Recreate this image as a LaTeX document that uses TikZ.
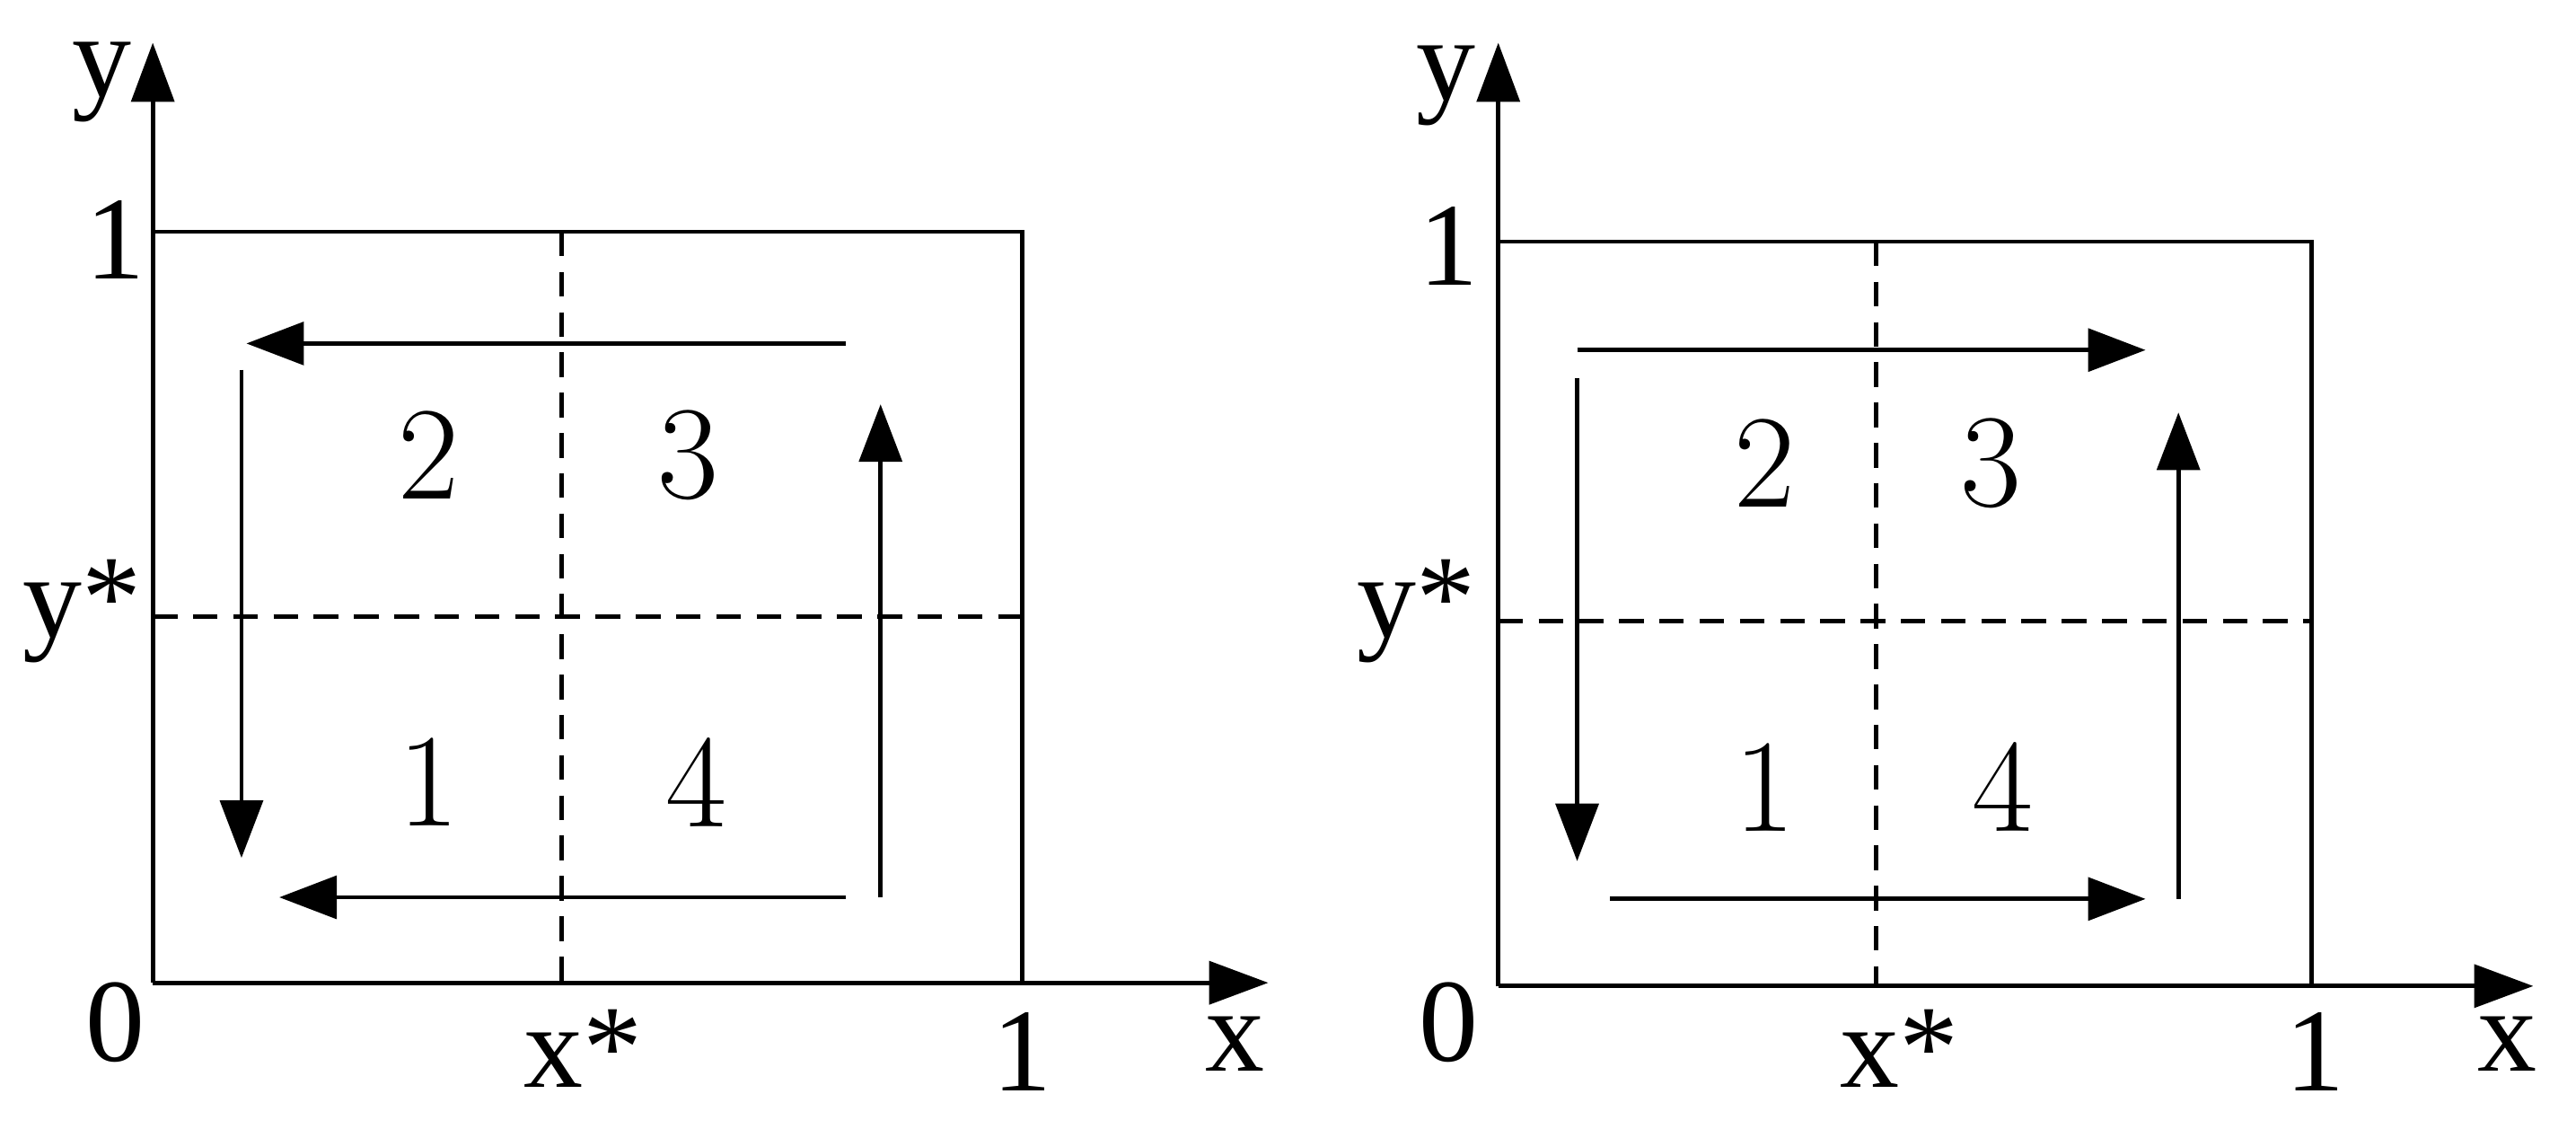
\documentclass[tikz,border=0pt]{standalone}
\usepackage{fontspec}
\newfontfamily\axfont{Liberation Serif}
\usetikzlibrary{arrows.meta}
\begin{document}
\begin{tikzpicture}[x=0.1mm,y=-0.1mm,
  ax/.style={line width=0.8pt,-{Triangle[length=3.6mm,width=2.6mm]}},
  frame/.style={line width=0.75pt},
  dsh/.style={line width=0.75pt,dash pattern=on 1.5mm off 0.95mm},
  flow/.style={line width=0.75pt,-{Triangle[length=3.5mm,width=2.6mm]}},
  axlab/.style={font=\axfont\fontsize{20.5}{21}\selectfont,inner sep=0pt},
  reg/.style={font=\fontsize{23}{23}\selectfont,inner sep=0pt}]
\useasboundingbox (0,0) rectangle (1568,692);
% ---------- left panel ----------
\coordinate (LO) at (93,598);
\coordinate (LYt) at (93,26);
\coordinate (LXt) at (772,598);
\draw[frame] (93,141) -| (622,598);
\draw[dsh] (342,141) -- (342,598);
\draw[dsh] (93,375) -- (622,375);
\draw[ax] (LO) -- (LYt);
\draw[ax] (LO) -- (LXt);
\coordinate (La1) at (515,209); \coordinate (La2) at (150,209);
\coordinate (Lb1) at (147,225); \coordinate (Lb2) at (147,522);
\coordinate (Lc1) at (515,546); \coordinate (Lc2) at (170,546);
\coordinate (Ld1) at (536,546); \coordinate (Ld2) at (536,246);
\draw[flow] (La1) -- (La2);
\draw[flow] (Lb1) -- (Lb2);
\draw[flow] (Lc1) -- (Lc2);
\draw[flow] (Ld1) -- (Ld2);
\node[reg] (L2) at (261,277) {2};
\node[reg] (L3) at (419,277) {3};
\node[reg] (L1) at (261,476) {1};
\node[reg] (L4) at (424,476) {4};
\node[axlab] (Ly) at (62,50) {y};
\node[axlab] (L1y) at (70,146) {1};
\node[axlab] (Lys) at (50,372) {y*};
\node[axlab] (L0) at (70,622) {0};
\node[axlab] (Lxs) at (355,638) {x*};
\node[axlab] (L1x) at (622,640) {1};
\node[axlab] (Lx) at (752,635) {x};
% ---------- right panel ----------
\coordinate (RO) at (912,600);
\coordinate (RYt) at (912,26);
\coordinate (RXt) at (1542,600);
\draw[frame] (912,147) -| (1407,600);
\draw[dsh] (1142,147) -- (1142,600);
\draw[dsh] (912,378) -- (1407,378);
\draw[ax] (RO) -- (RYt);
\draw[ax] (RO) -- (RXt);
\coordinate (Ra1) at (960,213); \coordinate (Ra2) at (1306,213);
\coordinate (Rb1) at (960,230); \coordinate (Rb2) at (960,524);
\coordinate (Rc1) at (980,547); \coordinate (Rc2) at (1306,547);
\coordinate (Rd1) at (1326,547); \coordinate (Rd2) at (1326,251);
\draw[flow] (Ra1) -- (Ra2);
\draw[flow] (Rb1) -- (Rb2);
\draw[flow] (Rc1) -- (Rc2);
\draw[flow] (Rd1) -- (Rd2);
\node[reg] (R2) at (1074,282) {2};
\node[reg] (R3) at (1212,282) {3};
\node[reg] (R1) at (1074,479) {1};
\node[reg] (R4) at (1219,479) {4};
\node[axlab] (Ry) at (880,52) {y};
\node[axlab] (R1y) at (882,150) {1};
\node[axlab] (Rys) at (862,372) {y*};
\node[axlab] (R0) at (882,622) {0};
\node[axlab] (Rxs) at (1156,638) {x*};
\node[axlab] (R1x) at (1409,640) {1};
\node[axlab] (Rx) at (1526,635) {x};
\end{tikzpicture}
\end{document}
